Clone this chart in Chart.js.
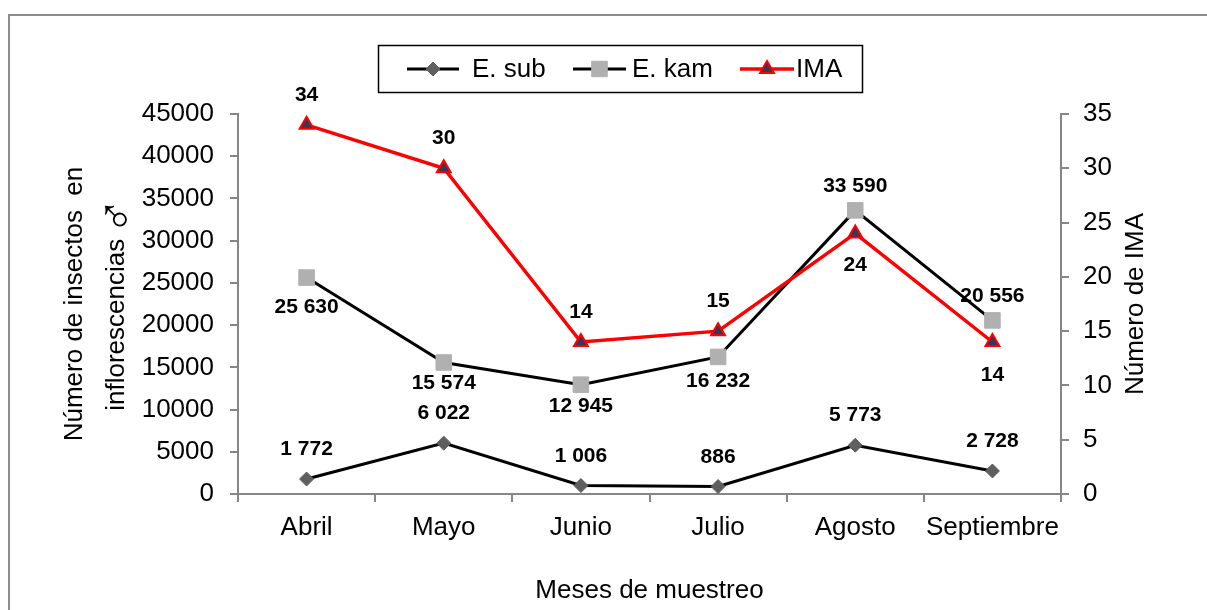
<!DOCTYPE html>
<html>
<head>
<meta charset="utf-8">
<script src="https://cdn.jsdelivr.net/npm/chart.js@4.4.0/dist/chart.umd.min.js"></script>
<style>
  html, body { margin: 0; padding: 0; background: #fff; }
  canvas { display: block; }
</style>
</head>
<body>
<canvas id="c" width="1207" height="610"></canvas>
<script>
// Monthly samples
const months = ['Abril', 'Mayo', 'Junio', 'Julio', 'Agosto', 'Septiembre'];
const eSub = [1772, 6022, 1006, 886, 5773, 2728];
const eKam = [25630, 15574, 12945, 16232, 33590, 20556];
const ima = [34, 30, 14, 15, 24, 14];

// Value-label placement per point: positive = below the point, negative = above (px)
const eSubLabelShift = [-30, -30, -29, -29, -30, -30];
const eKamLabelShift = [30, 21, 22, 24, -24, -24];
const imaLabelShift = [-30, -30, -30, -30, 32, 33];

const FONT = '"Liberation Sans", Arial, sans-serif';
const AXIS_GRAY = '#868686';

Chart.defaults.font.family = FONT;
Chart.defaults.color = '#000';

function spaced(v) {
  return String(v).replace(/\B(?=(\d{3})+(?!\d))/g, ' ');
}

// White page with the thin frame on the top and left edges
const framePlugin = {
  id: 'frame',
  beforeDraw(chart) {
    const ctx = chart.ctx;
    ctx.save();
    ctx.fillStyle = '#fff';
    ctx.fillRect(0, 0, chart.width, chart.height);
    ctx.strokeStyle = '#8c8c8c';
    ctx.lineWidth = 2;
    ctx.beginPath();
    ctx.moveTo(9, chart.height);
    ctx.lineTo(9, 15);
    ctx.lineTo(chart.width, 15);
    ctx.stroke();
    ctx.restore();
  }
};

// Bold value labels next to each point
const valueLabels = {
  id: 'valueLabels',
  afterDatasetsDraw(chart) {
    const ctx = chart.ctx;
    ctx.save();
    ctx.font = 'bold 21px ' + FONT;
    ctx.fillStyle = '#000';
    ctx.textAlign = 'center';
    ctx.textBaseline = 'middle';
    chart.data.datasets.forEach((ds, di) => {
      const meta = chart.getDatasetMeta(di);
      meta.data.forEach((pt, i) => {
        ctx.fillText(spaced(ds.data[i]), pt.x, pt.y + ds.labelShift[i]);
      });
    });
    ctx.restore();
  }
};

// Boxed legend with line + marker samples, and the two vertical axis titles
const boxedLegend = {
  id: 'boxedLegend',
  afterDraw(chart) {
    const ctx = chart.ctx;
    const midY = (chart.chartArea.top + chart.chartArea.bottom) / 2;
    ctx.save();
    ctx.strokeStyle = '#000';
    ctx.lineWidth = 1.5;
    ctx.strokeRect(378.5, 45.5, 484, 47);
    const cy = 69;
    const items = [
      { x0: 407, x1: 459, tx: 472 },
      { x0: 573, x1: 626, tx: 632 },
      { x0: 740, x1: 794, tx: 796 }
    ];
    chart.data.datasets.forEach((ds, i) => {
      const it = items[i];
      ctx.strokeStyle = ds.borderColor;
      ctx.lineWidth = ds.borderWidth;
      ctx.beginPath();
      ctx.moveTo(it.x0, cy);
      ctx.lineTo(it.x1, cy);
      ctx.stroke();
      ctx.fillStyle = ds.pointBackgroundColor;
      ctx.strokeStyle = ds.pointBorderColor;
      ctx.lineWidth = ds.pointBorderWidth;
      Chart.helpers.drawPoint(ctx, {
        pointStyle: ds.pointStyle,
        radius: ds.pointRadius,
        rotation: 0,
        borderWidth: ds.pointBorderWidth
      }, (it.x0 + it.x1) / 2, cy);
      ctx.fillStyle = '#000';
      ctx.font = '26px ' + FONT;
      ctx.textAlign = 'left';
      ctx.textBaseline = 'middle';
      ctx.fillText(ds.label, it.tx, cy + 1);
    });
    ctx.restore();

    // Left axis title: two lines, the second ending with the male sign
    ctx.save();
    ctx.translate(75, midY);
    ctx.rotate(-Math.PI / 2);
    ctx.fillStyle = '#000';
    ctx.textBaseline = 'middle';
    ctx.textAlign = 'center';
    ctx.font = '26px ' + FONT;
    ctx.fillText('Número de insectos  en', 0, 0);
    const word = 'inflorescencias';
    const sign = '\u2642';
    const signFont = '50px ' + FONT;
    const w1 = ctx.measureText(word).width;
    ctx.font = signFont;
    const w2 = ctx.measureText(sign).width;
    const gap = 4;
    const start = -(w1 + gap + w2) / 2;
    ctx.textAlign = 'left';
    ctx.font = '26px ' + FONT;
    ctx.fillText(word, start, 42);
    ctx.font = signFont;
    ctx.fillText(sign, start + w1 + gap, 44);
    ctx.restore();

    // Right axis title, reading bottom to top
    ctx.save();
    ctx.translate(1136, midY);
    ctx.rotate(-Math.PI / 2);
    ctx.fillStyle = '#000';
    ctx.font = '26px ' + FONT;
    ctx.textAlign = 'center';
    ctx.textBaseline = 'middle';
    ctx.fillText('Número de IMA', 0, 0);
    ctx.restore();
  }
};

const axisGrid = {
  display: true,
  drawOnChartArea: false,
  drawTicks: true,
  tickLength: 8,
  color: AXIS_GRAY,
  lineWidth: 2
};

new Chart(document.getElementById('c'), {
  type: 'line',
  data: {
    labels: months,
    datasets: [
      {
        label: 'E. sub',
        data: eSub,
        yAxisID: 'y',
        borderColor: '#000',
        borderWidth: 3,
        pointStyle: 'rectRot',
        pointRadius: 7,
        pointBackgroundColor: '#5f5f5f',
        pointBorderColor: '#5f5f5f',
        pointBorderWidth: 1,
        labelShift: eSubLabelShift,
        order: 1
      },
      {
        label: 'E. kam',
        data: eKam,
        yAxisID: 'y',
        borderColor: '#000',
        borderWidth: 3,
        pointStyle: 'rect',
        pointRadius: 11,
        pointBackgroundColor: '#b0b0b0',
        pointBorderColor: '#b0b0b0',
        pointBorderWidth: 1,
        labelShift: eKamLabelShift,
        order: 1
      },
      {
        label: 'IMA',
        data: ima,
        yAxisID: 'y1',
        borderColor: '#ff0000',
        borderWidth: 3.5,
        pointStyle: 'triangle',
        pointRadius: 8,
        pointBackgroundColor: '#3b3656',
        pointBorderColor: '#ff0000',
        pointBorderWidth: 2,
        labelShift: imaLabelShift,
        order: 0
      }
    ]
  },
  options: {
    responsive: false,
    animation: false,
    devicePixelRatio: 1,
    layout: { padding: { top: 114, left: 0, right: 0, bottom: 0 } },
    elements: { line: { tension: 0 } },
    plugins: {
      legend: { display: false },
      tooltip: { enabled: false }
    },
    scales: {
      x: {
        type: 'category',
        offset: true,
        grid: Object.assign({}, axisGrid, { offset: true }),
        border: { display: true, color: AXIS_GRAY, width: 2 },
        ticks: { color: '#000', font: { size: 26 }, padding: 10, maxRotation: 0, autoSkip: false },
        title: {
          display: true,
          text: 'Meses de muestreo',
          color: '#000',
          font: { size: 26 },
          padding: { top: 0, bottom: 4 }
        },
        afterFit(scale) { scale.height = 116; }
      },
      y: {
        position: 'left',
        min: 0,
        max: 45000,
        grid: axisGrid,
        border: { display: true, color: AXIS_GRAY, width: 2 },
        ticks: { stepSize: 5000, color: '#000', font: { size: 26 }, padding: 16, callback: v => String(v) },
        afterFit(scale) { scale.width = 238; }
      },
      y1: {
        position: 'right',
        min: 0,
        max: 35,
        grid: axisGrid,
        border: { display: true, color: AXIS_GRAY, width: 2 },
        ticks: { stepSize: 5, color: '#000', font: { size: 26 }, padding: 14, callback: v => String(v) },
        afterFit(scale) { scale.width = 146; }
      }
    }
  },
  plugins: [framePlugin, valueLabels, boxedLegend]
});
</script>
</body>
</html>
